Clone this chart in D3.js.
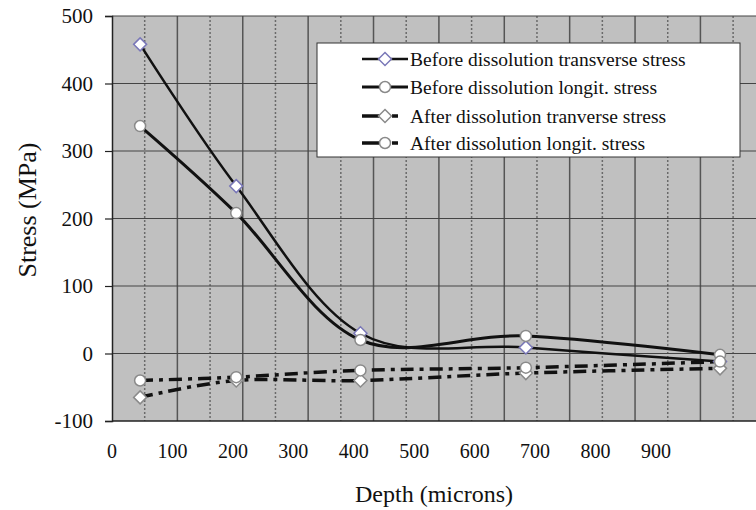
<!DOCTYPE html>
<html><head><meta charset="utf-8">
<script src="https://cdn.jsdelivr.net/npm/d3@7"></script>
<style>
body{margin:0;background:#fff}
svg{display:block}
text{font-family:"Liberation Serif","Times New Roman",serif;fill:#111}
</style>
</head><body>
<svg id="c" width="756" height="510"></svg>
<script>
// ---- data ----
const depths = [43, 190, 380, 633, 930];
const beforeTransverse = [458, 248, 30, 9, -12];
const beforeLongit = [337, 208, 20, 26, -2];
const afterTransverse = [-65, -40, -40, -29, -22];
const afterLongit = [-40, -35, -25, -21, -12];
const seriesNames = [
  "Before dissolution transverse stress",
  "Before dissolution longit. stress",
  "After dissolution tranverse stress",
  "After dissolution longit. stress"
];
const yTicks = [-100, 0, 100, 200, 300, 400, 500];
const xTickLabels = [0, 100, 200, 300, 400, 500, 600, 700, 800, 900];
const gridMajor = [100, 200, 300, 400, 500, 600, 700, 800, 900];
const gridMinor = [50, 150, 250, 350, 450, 550, 650, 750, 850, 950];

// ---- layout ----
const L = 112, R = 756, T = 16, B = 421;
const svg = d3.select("#c");
const x = d3.scaleLinear().domain([0, 985]).range([L, R]);
const y = d3.scaleLinear().domain([-100, 500]).range([B, T]);
// tick label positions in the original figure follow their own spacing
const xl = d3.scaleLinear().domain([0, 900]).range([112, 656]);

svg.append("rect").attr("x", L).attr("y", T).attr("width", R - L).attr("height", B - T).attr("fill", "#c0c0c0");

// grid
svg.append("g").selectAll("line").data(gridMinor).join("line")
  .attr("x1", d => x(d)).attr("x2", d => x(d)).attr("y1", T).attr("y2", B)
  .attr("stroke", "#6a6a6a").attr("stroke-width", 1.5).attr("stroke-dasharray", "2,2");
svg.append("g").selectAll("line").data(gridMajor).join("line")
  .attr("x1", d => x(d)).attr("x2", d => x(d)).attr("y1", T).attr("y2", B)
  .attr("stroke", "#555").attr("stroke-width", 1.5);
svg.append("g").selectAll("line").data(yTicks.filter(d => d > -100)).join("line")
  .attr("x1", L).attr("x2", R).attr("y1", d => y(d)).attr("y2", d => y(d))
  .attr("stroke", "#444").attr("stroke-width", 1.2);

// axes
const yAxis = svg.append("g").attr("transform", `translate(${L},0)`)
  .call(d3.axisLeft(y).tickValues(yTicks).tickSize(7).tickPadding(12).tickFormat(d => String(d)));
yAxis.select(".domain").attr("stroke", "#222").attr("stroke-width", 1.5);
yAxis.selectAll(".tick line").attr("stroke", "#222").attr("stroke-width", 1.2);
yAxis.selectAll("text").style("font-size", "21px").style("font-family", "Liberation Serif").attr("fill", "#111");

svg.append("line").attr("x1", L).attr("x2", R).attr("y1", B).attr("y2", B).attr("stroke", "#222").attr("stroke-width", 1.5);

svg.append("g").selectAll("text").data(xTickLabels).join("text")
  .attr("x", d => xl(d)).attr("y", 458).attr("text-anchor", "middle")
  .style("font-size", "20px").text(d => d);

svg.append("text").attr("x", 434).attr("y", 502).attr("text-anchor", "middle")
  .style("font-size", "24px").text("Depth (microns)");
svg.append("text").attr("transform", "translate(36,210) rotate(-90)").attr("text-anchor", "middle")
  .style("font-size", "26px").text("Stress (MPa)");

// series
const curve = d3.curveCardinal.tension(0);
const series = [
  {vals: beforeTransverse, w: 2.5, dash: null, marker: "diamond", mstroke: "#7a78b8"},
  {vals: beforeLongit, w: 3, dash: null, marker: "circle", mstroke: "#8a8a8a"},
  {vals: afterTransverse, w: 3.5, dash: "13,6,4,6", marker: "diamond", mstroke: "#8a8a8a"},
  {vals: afterLongit, w: 3.5, dash: "13,6,4,6", marker: "circle", mstroke: "#8a8a8a"}
];
const line = d3.line().x(d => x(d[0])).y(d => y(d[1])).curve(curve);
const diamond = s => `M0,${-s}L${s},0L0,${s}L${-s},0Z`;

function drawMarker(g, type, cx, cy, stroke) {
  if (type === "diamond") {
    g.append("path").attr("d", diamond(6.5)).attr("transform", `translate(${cx},${cy})`)
      .attr("fill", "#fff").attr("stroke", stroke).attr("stroke-width", 1.5);
  } else {
    g.append("circle").attr("cx", cx).attr("cy", cy).attr("r", 5.5)
      .attr("fill", "#fff").attr("stroke", stroke).attr("stroke-width", 1.5);
  }
}

series.forEach(s => {
  const pts = depths.map((d, i) => [d, s.vals[i]]);
  svg.append("path").attr("d", line(pts)).attr("fill", "none")
    .attr("stroke", "#111").attr("stroke-width", s.w)
    .attr("stroke-dasharray", s.dash);
});
series.forEach(s => {
  const g = svg.append("g");
  depths.forEach((d, i) => drawMarker(g, s.marker, x(d), y(s.vals[i]), s.mstroke));
});

// legend
const lg = svg.append("g");
lg.append("rect").attr("x", 317).attr("y", 43).attr("width", 423).attr("height", 114)
  .attr("fill", "#fff").attr("stroke", "#333").attr("stroke-width", 1);
const rowY = [59, 87, 116, 143];
series.forEach((s, i) => {
  const yy = rowY[i];
  if (s.dash) {
    lg.append("line").attr("x1", 362).attr("x2", 380).attr("y1", yy).attr("y2", yy)
      .attr("stroke", "#111").attr("stroke-width", s.w);
    lg.append("line").attr("x1", 392).attr("x2", 398).attr("y1", yy).attr("y2", yy)
      .attr("stroke", "#111").attr("stroke-width", s.w);
  } else {
    lg.append("line").attr("x1", 362).attr("x2", 408).attr("y1", yy).attr("y2", yy)
      .attr("stroke", "#111").attr("stroke-width", s.w);
  }
  drawMarker(lg, s.marker, 385, yy, s.mstroke);
  lg.append("text").attr("x", 410).attr("y", yy + 7).style("font-size", "19.5px").text(seriesNames[i]);
});
</script>
</body></html>
